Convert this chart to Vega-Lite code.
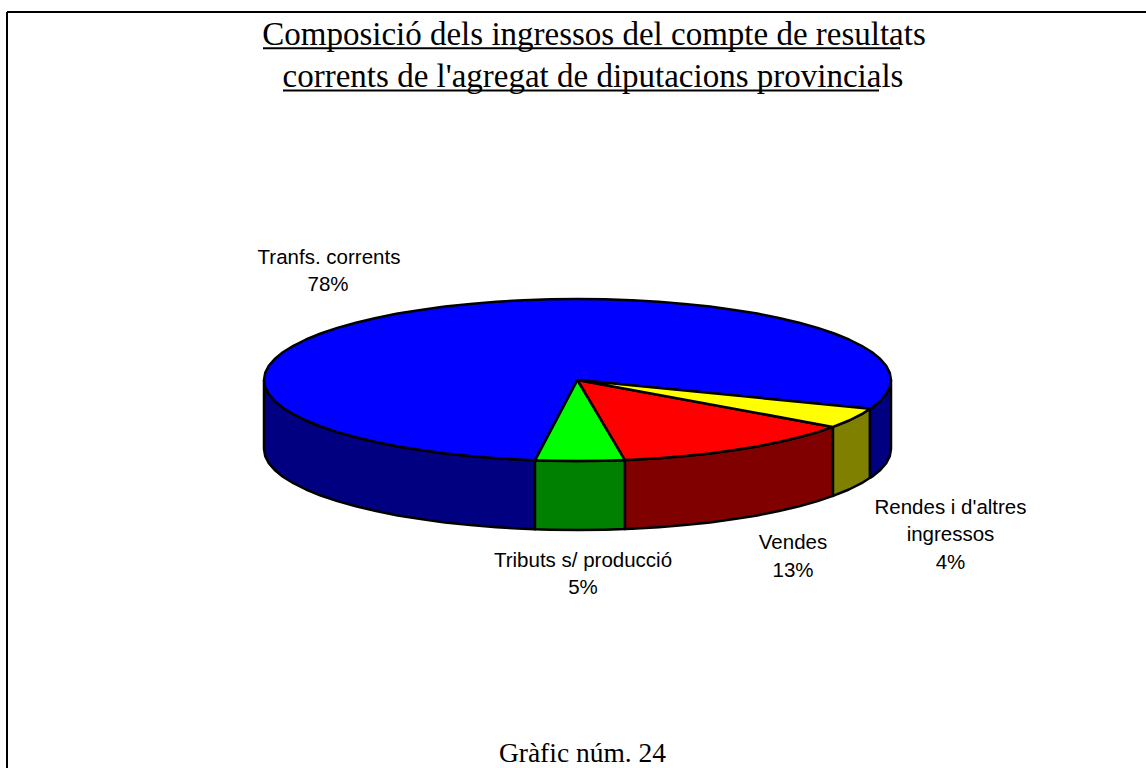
{"$schema":"https://vega.github.io/schema/vega-lite/v6.json","width":1146,"height":768,"autosize":{"type":"none"},"padding":0,"background":"white","view":{"stroke":null},
"datasets":{
"sides":[
{"p":"Transf lateral","i":1,"x":264,"y":380},{"p":"Transf lateral","i":2,"x":265.2,"y":387.1},{"p":"Transf lateral","i":3,"x":268.8,"y":394.1},{"p":"Transf lateral","i":4,"x":274.7,"y":401},{"p":"Transf lateral","i":5,"x":282.9,"y":407.7},{"p":"Transf lateral","i":6,"x":293.4,"y":414.2},{"p":"Transf lateral","i":7,"x":306,"y":420.5},{"p":"Transf lateral","i":8,"x":320.7,"y":426.5},{"p":"Transf lateral","i":9,"x":337.3,"y":432.1},{"p":"Transf lateral","i":10,"x":355.8,"y":437.3},{"p":"Transf lateral","i":11,"x":376,"y":442},{"p":"Transf lateral","i":12,"x":397.7,"y":446.4},{"p":"Transf lateral","i":13,"x":420.7,"y":450.1},{"p":"Transf lateral","i":14,"x":445,"y":453.4},{"p":"Transf lateral","i":15,"x":470.3,"y":456.1},{"p":"Transf lateral","i":16,"x":496.4,"y":458.2},{"p":"Transf lateral","i":17,"x":523.1,"y":459.8},{"p":"Transf lateral","i":18,"x":535,"y":460.3},{"p":"Transf lateral","i":19,"x":535,"y":529.3},{"p":"Transf lateral","i":20,"x":523.1,"y":528.8},{"p":"Transf lateral","i":21,"x":496.4,"y":527.2},{"p":"Transf lateral","i":22,"x":470.3,"y":525.1},{"p":"Transf lateral","i":23,"x":445,"y":522.4},{"p":"Transf lateral","i":24,"x":420.7,"y":519.1},{"p":"Transf lateral","i":25,"x":397.7,"y":515.4},{"p":"Transf lateral","i":26,"x":376,"y":511},{"p":"Transf lateral","i":27,"x":355.8,"y":506.3},{"p":"Transf lateral","i":28,"x":337.3,"y":501.1},{"p":"Transf lateral","i":29,"x":320.7,"y":495.5},{"p":"Transf lateral","i":30,"x":306,"y":489.5},{"p":"Transf lateral","i":31,"x":293.4,"y":483.2},{"p":"Transf lateral","i":32,"x":282.9,"y":476.7},{"p":"Transf lateral","i":33,"x":274.7,"y":470},{"p":"Transf lateral","i":34,"x":268.8,"y":463.1},{"p":"Transf lateral","i":35,"x":265.2,"y":456.1},{"p":"Transf lateral","i":36,"x":264,"y":449},{"p":"Transf lateral","i":37,"x":264,"y":380},
{"p":"Tributs lateral","i":1,"x":535,"y":460.3},{"p":"Tributs lateral","i":2,"x":550.2,"y":460.7},{"p":"Tributs lateral","i":3,"x":577.5,"y":461},{"p":"Tributs lateral","i":4,"x":604.8,"y":460.7},{"p":"Tributs lateral","i":5,"x":625,"y":460.1},{"p":"Tributs lateral","i":6,"x":625,"y":529.1},{"p":"Tributs lateral","i":7,"x":604.8,"y":529.7},{"p":"Tributs lateral","i":8,"x":577.5,"y":530},{"p":"Tributs lateral","i":9,"x":550.2,"y":529.7},{"p":"Tributs lateral","i":10,"x":535,"y":529.3},{"p":"Tributs lateral","i":11,"x":535,"y":460.3},
{"p":"Vendes lateral","i":1,"x":625,"y":460.1},{"p":"Vendes lateral","i":2,"x":631.9,"y":459.8},{"p":"Vendes lateral","i":3,"x":658.6,"y":458.2},{"p":"Vendes lateral","i":4,"x":684.7,"y":456.1},{"p":"Vendes lateral","i":5,"x":710,"y":453.4},{"p":"Vendes lateral","i":6,"x":734.3,"y":450.1},{"p":"Vendes lateral","i":7,"x":757.3,"y":446.4},{"p":"Vendes lateral","i":8,"x":779,"y":442},{"p":"Vendes lateral","i":9,"x":799.2,"y":437.3},{"p":"Vendes lateral","i":10,"x":817.7,"y":432.1},{"p":"Vendes lateral","i":11,"x":833,"y":426.9},{"p":"Vendes lateral","i":12,"x":833,"y":495.9},{"p":"Vendes lateral","i":13,"x":817.7,"y":501.1},{"p":"Vendes lateral","i":14,"x":799.2,"y":506.3},{"p":"Vendes lateral","i":15,"x":779,"y":511},{"p":"Vendes lateral","i":16,"x":757.3,"y":515.4},{"p":"Vendes lateral","i":17,"x":734.3,"y":519.1},{"p":"Vendes lateral","i":18,"x":710,"y":522.4},{"p":"Vendes lateral","i":19,"x":684.7,"y":525.1},{"p":"Vendes lateral","i":20,"x":658.6,"y":527.2},{"p":"Vendes lateral","i":21,"x":631.9,"y":528.8},{"p":"Vendes lateral","i":22,"x":625,"y":529.1},{"p":"Vendes lateral","i":23,"x":625,"y":460.1},
{"p":"Rendes lateral","i":1,"x":833,"y":426.9},{"p":"Rendes lateral","i":2,"x":849,"y":420.5},{"p":"Rendes lateral","i":3,"x":861.6,"y":414.2},{"p":"Rendes lateral","i":4,"x":870,"y":408.8},{"p":"Rendes lateral","i":5,"x":870,"y":477.8},{"p":"Rendes lateral","i":6,"x":861.6,"y":483.2},{"p":"Rendes lateral","i":7,"x":849,"y":489.5},{"p":"Rendes lateral","i":8,"x":833,"y":495.9},{"p":"Rendes lateral","i":9,"x":833,"y":426.9},
{"p":"Transf lateral dret","i":1,"x":870,"y":408.8},{"p":"Transf lateral dret","i":2,"x":872.1,"y":407.7},{"p":"Transf lateral dret","i":3,"x":880.3,"y":401},{"p":"Transf lateral dret","i":4,"x":886.2,"y":394.1},{"p":"Transf lateral dret","i":5,"x":889.8,"y":387.1},{"p":"Transf lateral dret","i":6,"x":891,"y":380},{"p":"Transf lateral dret","i":7,"x":891,"y":449},{"p":"Transf lateral dret","i":8,"x":889.8,"y":456.1},{"p":"Transf lateral dret","i":9,"x":886.2,"y":463.1},{"p":"Transf lateral dret","i":10,"x":880.3,"y":470},{"p":"Transf lateral dret","i":11,"x":872.1,"y":476.7},{"p":"Transf lateral dret","i":12,"x":870,"y":477.8},{"p":"Transf lateral dret","i":13,"x":870,"y":408.8}
],
"tops":[
{"p":"Transf","i":1,"x":577.5,"y":380},{"p":"Transf","i":2,"x":870,"y":408.8},{"p":"Transf","i":3,"x":872.1,"y":407.7},{"p":"Transf","i":4,"x":880.3,"y":401},{"p":"Transf","i":5,"x":886.2,"y":394.1},{"p":"Transf","i":6,"x":889.8,"y":387.1},{"p":"Transf","i":7,"x":891,"y":380},{"p":"Transf","i":8,"x":889.8,"y":372.9},{"p":"Transf","i":9,"x":886.2,"y":365.9},{"p":"Transf","i":10,"x":880.3,"y":359},{"p":"Transf","i":11,"x":872.1,"y":352.3},{"p":"Transf","i":12,"x":861.6,"y":345.8},{"p":"Transf","i":13,"x":849,"y":339.5},{"p":"Transf","i":14,"x":834.3,"y":333.5},{"p":"Transf","i":15,"x":817.7,"y":327.9},{"p":"Transf","i":16,"x":799.2,"y":322.7},{"p":"Transf","i":17,"x":779,"y":318},{"p":"Transf","i":18,"x":757.3,"y":313.6},{"p":"Transf","i":19,"x":734.3,"y":309.9},{"p":"Transf","i":20,"x":710,"y":306.6},{"p":"Transf","i":21,"x":684.7,"y":303.9},{"p":"Transf","i":22,"x":658.6,"y":301.8},{"p":"Transf","i":23,"x":631.9,"y":300.2},{"p":"Transf","i":24,"x":604.8,"y":299.3},{"p":"Transf","i":25,"x":577.5,"y":299},{"p":"Transf","i":26,"x":550.2,"y":299.3},{"p":"Transf","i":27,"x":523.1,"y":300.2},{"p":"Transf","i":28,"x":496.4,"y":301.8},{"p":"Transf","i":29,"x":470.3,"y":303.9},{"p":"Transf","i":30,"x":445,"y":306.6},{"p":"Transf","i":31,"x":420.7,"y":309.9},{"p":"Transf","i":32,"x":397.7,"y":313.6},{"p":"Transf","i":33,"x":376,"y":318},{"p":"Transf","i":34,"x":355.8,"y":322.7},{"p":"Transf","i":35,"x":337.3,"y":327.9},{"p":"Transf","i":36,"x":320.7,"y":333.5},{"p":"Transf","i":37,"x":306,"y":339.5},{"p":"Transf","i":38,"x":293.4,"y":345.8},{"p":"Transf","i":39,"x":282.9,"y":352.3},{"p":"Transf","i":40,"x":274.7,"y":359},{"p":"Transf","i":41,"x":268.8,"y":365.9},{"p":"Transf","i":42,"x":265.2,"y":372.9},{"p":"Transf","i":43,"x":264,"y":380},{"p":"Transf","i":44,"x":265.2,"y":387.1},{"p":"Transf","i":45,"x":268.8,"y":394.1},{"p":"Transf","i":46,"x":274.7,"y":401},{"p":"Transf","i":47,"x":282.9,"y":407.7},{"p":"Transf","i":48,"x":293.4,"y":414.2},{"p":"Transf","i":49,"x":306,"y":420.5},{"p":"Transf","i":50,"x":320.7,"y":426.5},{"p":"Transf","i":51,"x":337.3,"y":432.1},{"p":"Transf","i":52,"x":355.8,"y":437.3},{"p":"Transf","i":53,"x":376,"y":442},{"p":"Transf","i":54,"x":397.7,"y":446.4},{"p":"Transf","i":55,"x":420.7,"y":450.1},{"p":"Transf","i":56,"x":445,"y":453.4},{"p":"Transf","i":57,"x":470.3,"y":456.1},{"p":"Transf","i":58,"x":496.4,"y":458.2},{"p":"Transf","i":59,"x":523.1,"y":459.8},{"p":"Transf","i":60,"x":535,"y":460.3},{"p":"Transf","i":61,"x":577.5,"y":380},
{"p":"Tributs","i":1,"x":577.5,"y":380},{"p":"Tributs","i":2,"x":535,"y":460.3},{"p":"Tributs","i":3,"x":550.2,"y":460.7},{"p":"Tributs","i":4,"x":577.5,"y":461},{"p":"Tributs","i":5,"x":604.8,"y":460.7},{"p":"Tributs","i":6,"x":625,"y":460.1},{"p":"Tributs","i":7,"x":577.5,"y":380},
{"p":"Vendes","i":1,"x":577.5,"y":380},{"p":"Vendes","i":2,"x":625,"y":460.1},{"p":"Vendes","i":3,"x":631.9,"y":459.8},{"p":"Vendes","i":4,"x":658.6,"y":458.2},{"p":"Vendes","i":5,"x":684.7,"y":456.1},{"p":"Vendes","i":6,"x":710,"y":453.4},{"p":"Vendes","i":7,"x":734.3,"y":450.1},{"p":"Vendes","i":8,"x":757.3,"y":446.4},{"p":"Vendes","i":9,"x":779,"y":442},{"p":"Vendes","i":10,"x":799.2,"y":437.3},{"p":"Vendes","i":11,"x":817.7,"y":432.1},{"p":"Vendes","i":12,"x":833,"y":426.9},{"p":"Vendes","i":13,"x":577.5,"y":380},
{"p":"Rendes","i":1,"x":577.5,"y":380},{"p":"Rendes","i":2,"x":833,"y":426.9},{"p":"Rendes","i":3,"x":849,"y":420.5},{"p":"Rendes","i":4,"x":861.6,"y":414.2},{"p":"Rendes","i":5,"x":870,"y":408.8},{"p":"Rendes","i":6,"x":577.5,"y":380}
],
"frame":[{"x":7,"y":12,"x2":1146,"y2":12},{"x":7,"y":12,"x2":7,"y2":768}],
"underlines":[{"x":263,"x2":900,"y":48.3},{"x":283,"x2":879,"y":90.5}],
"heads":[{"t":"Composició dels ingressos del compte de resultats","x":594,"y":45},{"t":"corrents de l'agregat de diputacions provincials","x":593,"y":87}],
"foot":[{"t":"Gràfic núm. 24","x":582.5,"y":762}],
"labels":[{"t":"Tranfs. corrents","x":329,"y":263.5},{"t":"78%","x":328,"y":291},{"t":"Tributs s/ producció","x":583,"y":566.5},{"t":"5%","x":583,"y":594},{"t":"Vendes","x":793,"y":549},{"t":"13%","x":793,"y":577},{"t":"Rendes i d'altres","x":950.5,"y":514},{"t":"ingressos","x":950.5,"y":541},{"t":"4%","x":950.5,"y":569}]
},
"encoding":{
"x":{"field":"x","type":"quantitative","scale":{"domain":[0,1146],"nice":false,"zero":false},"axis":null},
"y":{"field":"y","type":"quantitative","scale":{"domain":[768,0],"nice":false,"zero":false},"axis":null}
},
"layer":[
{"data":{"name":"frame"},"mark":{"type":"rule","stroke":"black","strokeWidth":2},"encoding":{"x2":{"field":"x2"},"y2":{"field":"y2"}}},
{"data":{"name":"sides"},"mark":{"type":"line","stroke":"black","strokeWidth":2.5,"strokeJoin":"round"},"encoding":{"order":{"field":"i","type":"quantitative"},"fill":{"field":"p","type":"nominal","legend":null,"scale":{"domain":["Transf lateral","Tributs lateral","Vendes lateral","Rendes lateral","Transf lateral dret","Transf","Tributs","Vendes","Rendes"],"range":["#000080","#008000","#800000","#808000","#000080","#0000FF","#00FF00","#FF0000","#FFFF00"]}}}},
{"data":{"name":"tops"},"mark":{"type":"line","stroke":"black","strokeWidth":2.5,"strokeJoin":"round"},"encoding":{"order":{"field":"i","type":"quantitative"},"fill":{"field":"p","type":"nominal","legend":null,"scale":{"domain":["Transf lateral","Tributs lateral","Vendes lateral","Rendes lateral","Transf lateral dret","Transf","Tributs","Vendes","Rendes"],"range":["#000080","#008000","#800000","#808000","#000080","#0000FF","#00FF00","#FF0000","#FFFF00"]}}}},
{"data":{"name":"underlines"},"mark":{"type":"rule","stroke":"black","strokeWidth":2},"encoding":{"x2":{"field":"x2"}}},
{"data":{"name":"heads"},"mark":{"type":"text","font":"Liberation Serif","fontSize":33,"align":"center","baseline":"alphabetic","fill":"black"},"encoding":{"text":{"field":"t"}}},
{"data":{"name":"foot"},"mark":{"type":"text","font":"Liberation Serif","fontSize":27.5,"align":"center","baseline":"alphabetic","fill":"black"},"encoding":{"text":{"field":"t"}}},
{"data":{"name":"labels"},"mark":{"type":"text","font":"Liberation Sans","fontSize":20.5,"align":"center","baseline":"alphabetic","fill":"black"},"encoding":{"text":{"field":"t"}}}
]}
